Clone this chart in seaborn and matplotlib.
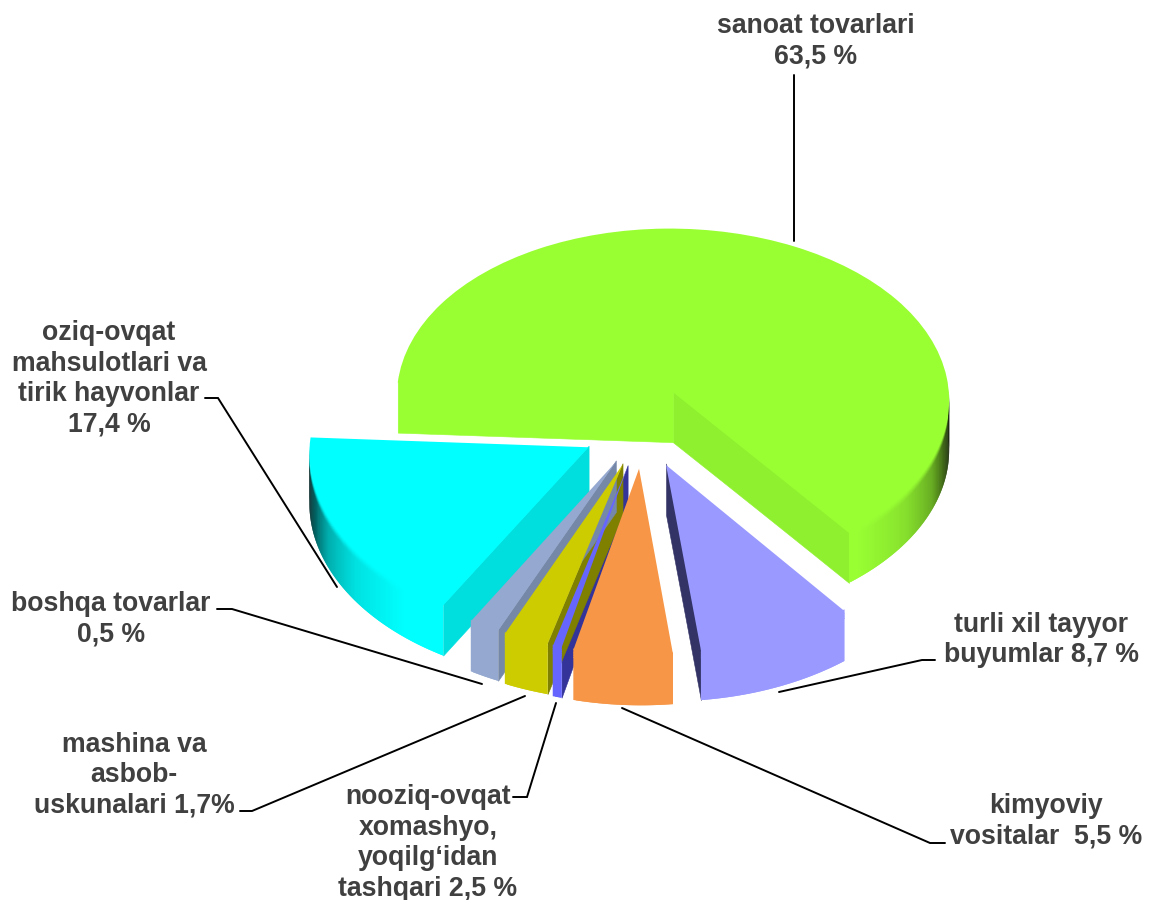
import numpy as np
import matplotlib
matplotlib.use("Agg")
import matplotlib.pyplot as plt
from matplotlib.collections import PolyCollection
from matplotlib.colors import to_rgb
from matplotlib.transforms import Transform
import seaborn as sns

# ---- data (clockwise from the large slice, as drawn) ----
slice_names = ["sanoat tovarlari", "turli xil tayyor buyumlar", "kimyoviy vositalar",
               "nooziq-ovqat xomashyo", "mashina va asbob-uskunalari",
               "boshqa tovarlar", "oziq-ovqat mahsulotlari"]
slice_sizes = [63.5, 8.7, 5.5, 0.5, 2.5, 1.7, 17.4]
slice_explode = [0.24, 0.22, 0.225, 0.22, 0.215, 0.21, 0.22]
top_colors = ["#99ff33", "#9999ff", "#f79646", "#6666ff", "#cccc00", "#95a8cf", "#00ffff"]
low_wall_colors = ["#8ff02f", "#333366", "#c87838", "#333399", "#808000", "#7688a8", "#00dede"]
high_wall_colors = ["#99ff33", "#333366", "#c87838", "#333399", "#808000", "#7688a8", "#00dede"]

label_texts = ["sanoat tovarlari\n63,5 %",
               "oziq-ovqat\nmahsulotlari va\ntirik hayvonlar\n17,4 %",
               "boshqa tovarlar\n0,5 %",
               "mashina va\nasbob-\nuskunalari 1,7%",
               "nooziq-ovqat\nxomashyo,\nyoqilg\u2018idan\ntashqari 2,5 %",
               "turli xil tayyor\nbuyumlar 8,7 %",
               "kimyoviy\nvositalar  5,5 %"]
label_x = [816, 109, 111, 134, 428, 1041, 1046]
label_y = [41, 379, 619, 775, 843, 640, 821]
leader_x = [[794, 794], [205, 218, 337], [217, 232, 482], [240, 252, 525],
            [513, 527, 556], [935, 922, 779], [945, 930, 622]]
leader_y = [[75, 241], [398, 398, 587], [609, 609, 684], [811, 811, 696],
            [797, 797, 703], [660, 660, 692], [843, 843, 708]]

# ---- view settings ----
CX, CY = 642.5, 429
A, K = 278, 175
PERSP_X, PERSP_Y = 0.035, 8
SHEAR = 2
DEPTH = 50
BEVEL = 7


def project(x, y):
    x, y = np.asarray(x, float), np.asarray(y, float)
    return CX + A * x * (1 - PERSP_X * y) - SHEAR * y, CY - K * y + PERSP_Y * y * y


class Tilt(Transform):
    input_dims = output_dims = 2
    is_affine = False

    def transform_non_affine(self, values):
        v = np.asarray(values, float)
        return np.column_stack(project(v[:, 0], v[:, 1]))


def shade(theta):
    t = (np.asarray(theta) + 270) % 360 - 270
    d = np.abs(t + 90)
    return np.interp(d, [0, 40, 55, 67, 77, 85, 92], [1.0, 1.0, 0.88, 0.68, 0.35, 0.15, 0.05])


sns.set_theme(style="white")
palette = sns.color_palette(top_colors)

fig = plt.figure(figsize=(11.53, 9), dpi=100, facecolor="white")
ax = fig.add_axes([0, 0, 1, 1])
wedges, _ = ax.pie(slice_sizes, explode=slice_explode, colors=palette,
                   startangle=176.8, counterclock=False, radius=1,
                   wedgeprops={"linewidth": 0, "antialiased": True, "zorder": 5})
ax.set_aspect("auto")
ax.set_xlim(0, 1153)
ax.set_ylim(900, 0)
ax.axis("off")

tilt = Tilt()
for w, base, c_low, c_high in zip(wedges, palette, low_wall_colors, high_wall_colors):
    w.set_transform(tilt + ax.transData)
    w.set_zorder(5)
    cx, cy = w.center
    t1, t2 = w.theta1, w.theta2
    base = np.array(to_rgb(base))

    # radial side walls facing the viewer (tucked slightly under the top face)
    for th, normal_off, col in ((t1, -90, c_low), (t2, 90, c_high)):
        if np.sin(np.radians(th + normal_off)) < 0:
            ex = cx + np.cos(np.radians(th))
            ey = cy + np.sin(np.radians(th))
            ln = np.linspace(0, 1, 40)
            px, py = project(cx + (ex - cx) * ln, cy + (ey - cy) * ln)
            poly = np.column_stack([np.r_[px, px[::-1]],
                                    np.r_[py - 1.5, py[::-1] + DEPTH]])
            ax.add_collection(PolyCollection([poly], facecolors=[col], edgecolors=[col],
                                             linewidths=0.4, zorder=3))

    # outer rim, in overlapping short strips, shaded by direction
    th = np.arange(t1, t2 + 0.5, 0.5)
    th[-1] = t2
    polys, cols = [], []
    levels = np.r_[np.linspace(0, BEVEL, 5), DEPTH]
    for a, b, b2 in zip(th[:-1], th[1:], np.r_[th[2:], t2]):
        if np.sin(np.radians((a + b) / 2)) >= 0:
            continue
        s = float(shade((a + b) / 2))
        wall = base * s
        qx, qy = project(cx + np.cos(np.radians([a, b2])), cy + np.sin(np.radians([a, b2])))
        for i, (z0, z1) in enumerate(zip(levels[:-1], levels[1:])):
            z0x = z0 - 1.5 if i == 0 else z0
            z1x = z1 if i == len(levels) - 2 else z1 + 1
            polys.append([(qx[0], qy[0] + z0x), (qx[1], qy[1] + z0x),
                          (qx[1], qy[1] + z1x), (qx[0], qy[0] + z1x)])
            f = min(1.0, (i + 0.5) / (len(levels) - 2))
            cols.append(tuple(base * (1 - f) + wall * f))
    if polys:
        ax.add_collection(PolyCollection(polys, facecolors=cols, edgecolors="none",
                                         linewidths=0, zorder=4))

for xs, ys in zip(leader_x, leader_y):
    ax.plot(xs, ys, color="black", lw=1.4, solid_joinstyle="miter", zorder=6)

for txt, x, y in zip(label_texts, label_x, label_y):
    ax.text(x, y, txt, ha="center", va="center", ma="center", fontsize=19.2,
            fontweight="bold", family="Liberation Sans", color="#404040",
            linespacing=1.22, zorder=7)

fig.savefig("out.png", dpi=100, facecolor="white")
